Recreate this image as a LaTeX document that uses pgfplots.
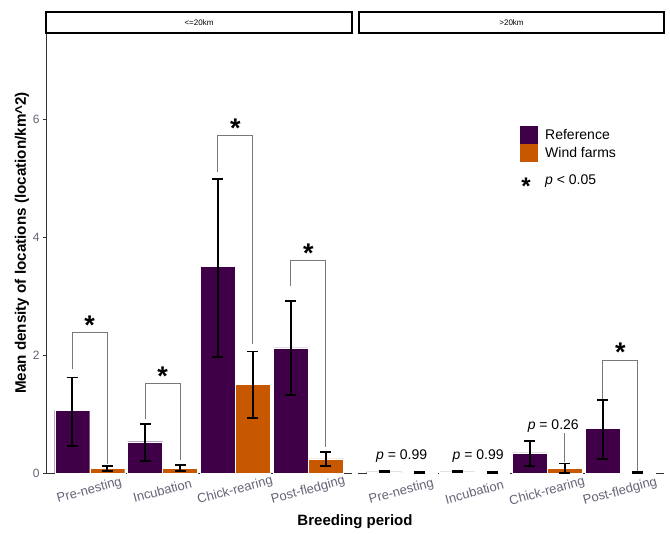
\documentclass[border=0pt]{standalone}
\usepackage{pgfplots}
\pgfplotsset{compat=1.18}
\usepackage{pgfplotstable}
\usepackage{fontspec}
\setmainfont{Liberation Sans}
\definecolor{refc}{RGB}{64,0,72}
\definecolor{windc}{RGB}{200,88,0}
\definecolor{tickc}{RGB}{100,100,120}
\definecolor{brk}{RGB}{120,120,120}

\pgfplotstableread{
x y ep em
1 1.06 0.56 0.60
2 0.53 0.30 0.33
3 3.50 1.48 1.53
4 2.12 0.80 0.80
}\leftref
\pgfplotstableread{
x y ep em
1 0.08 0.04 0.05
2 0.08 0.05 0.05
3 1.50 0.56 0.57
4 0.24 0.12 0.12
}\leftwind
\pgfplotstableread{
x y ep em
1 0.02 0.01 0.01
2 0.02 0.01 0.01
3 0.34 0.20 0.22
4 0.76 0.48 0.52
}\rightref
\pgfplotstableread{
x y ep em
1 0.01 0.006 0.006
2 0.01 0.006 0.006
3 0.08 0.08 0.08
4 0.01 0.012 0.01
}\rightwind

\tikzset{sigstar/.style={font=\bfseries\fontsize{27}{27}\selectfont, inner sep=0pt}}
\pgfplotsset{
  panel/.style={
    scale only axis, width=306pt, height=440pt,
    xmin=0.4, xmax=4.6, ymin=0, ymax=7.46,
    anchor=south west,
    ybar, bar width=35pt,
    axis x line*=bottom,
    axis line style={line width=0.9pt, black!80},
    xtick={1,2,3,4},
    xticklabels={Pre-nesting,Incubation,Chick-rearing,Post-fledging},
    xtick style={draw=none},
    xticklabel style={rotate=15, anchor=center, yshift=-14pt, xshift=-4pt,
      font=\fontsize{13}{13}\selectfont, text=tickc},
    clip=false,
  },
  errs/.style={error bars/.cd, y dir=both, y explicit,
    error bar style={line width=1.8pt, black},
    error mark options={line width=1.8pt, black, mark size=5.5pt, rotate=90}},
  refbar/.style={fill=refc, draw=white, line width=0.3pt, bar shift=-17.5pt, errs},
  windbar/.style={fill=windc, draw=white, line width=0.3pt, bar shift=17.5pt, errs},
  brack/.style={brk, line width=0.9pt, sharp plot, mark=none, forget plot},
}

\begin{document}
\begin{tikzpicture}[x=1pt,y=1pt]
\path[use as bounding box] (0,0) rectangle (670,534);

% left panel
\begin{axis}[panel, at={(46pt,61pt)},
  axis y line*=left,
  ytick={0,2,4,6},
  yticklabel style={font=\fontsize{12}{12}\selectfont, text=tickc},
  ytick style={line width=0.8pt, black!80},
  tick align=outside, major tick length=3pt,
  /pgf/number format/assume math mode=true]
\addplot[refbar] table[x=x,y=y,y error plus=ep,y error minus=em] {\leftref};
\addplot[windbar] table[x=x,y=y,y error plus=ep,y error minus=em] {\leftwind};
\addplot[brack] coordinates {(0.76,1.77) (0.76,2.38) (1.24,2.38) (1.24,0.16)};
\addplot[brack] coordinates {(1.76,0.92) (1.76,1.52) (2.24,1.52) (2.24,0.22)};
\addplot[brack] coordinates {(2.76,5.10) (2.76,5.72) (3.24,5.72) (3.24,2.18)};
\addplot[brack] coordinates {(3.76,3.17) (3.76,3.60) (4.24,3.60) (4.24,0.44)};
\node[sigstar] at (axis cs:1,2.50) {*};
\node[sigstar] at (axis cs:2,1.64) {*};
\node[sigstar] at (axis cs:3,5.84) {*};
\node[sigstar] at (axis cs:4,3.72) {*};
\end{axis}

% right panel
\begin{axis}[panel, at={(358pt,61pt)},
  axis y line=none]
\addplot[refbar] table[x=x,y=y,y error plus=ep,y error minus=em] {\rightref};
\addplot[windbar] table[x=x,y=y,y error plus=ep,y error minus=em] {\rightwind};
\addplot[brack] coordinates {(3.76,1.25) (3.76,1.90) (4.24,1.90) (4.24,0.04)};
\addplot[brack] coordinates {(3.24,0.18) (3.24,0.70)};
\node[sigstar] at (axis cs:4,2.04) {*};
\node[font=\fontsize{14}{14}\selectfont] at (axis cs:1.0,0.28) {\textit{p} = 0.99};
\node[font=\fontsize{14}{14}\selectfont] at (axis cs:2.05,0.28) {\textit{p} = 0.99};
\node[font=\fontsize{14}{14}\selectfont, fill=white, inner sep=1pt] at (axis cs:3.08,0.80) {\textit{p} = 0.26};
\end{axis}

% strips
\draw[line width=1.3pt, fill=white] (46,501) rectangle (352,522);
\node[font=\fontsize{8}{8}\selectfont] at (199,511.5) {<=20km};
\draw[line width=1.3pt, fill=white] (359,501) rectangle (664,522);
\node[font=\fontsize{8}{8}\selectfont] at (511.5,511.5) {>20km};

% legend
\fill[refc] (520,390) rectangle (538,408);
\fill[windc] (520,372) rectangle (538,390);
\node[anchor=west, font=\fontsize{14}{14}\selectfont, inner sep=0pt] at (545,399) {Reference};
\node[anchor=west, font=\fontsize{14}{14}\selectfont, inner sep=0pt] at (545,381) {Wind farms};
\node[font=\bfseries\fontsize{24}{24}\selectfont, inner sep=0pt] at (526,348) {*};
\node[anchor=west, font=\fontsize{14}{14}\selectfont, inner sep=0pt] at (545,353) {\textit{p} < 0.05};

% axis titles
\node[rotate=90, font=\bfseries\fontsize{15.2}{15.2}\selectfont] at (22,291) {Mean density of locations (location/km\textasciicircum 2)};
\node[font=\bfseries\fontsize{15}{15}\selectfont] at (355,12) {Breeding period};
\end{tikzpicture}
\end{document}
